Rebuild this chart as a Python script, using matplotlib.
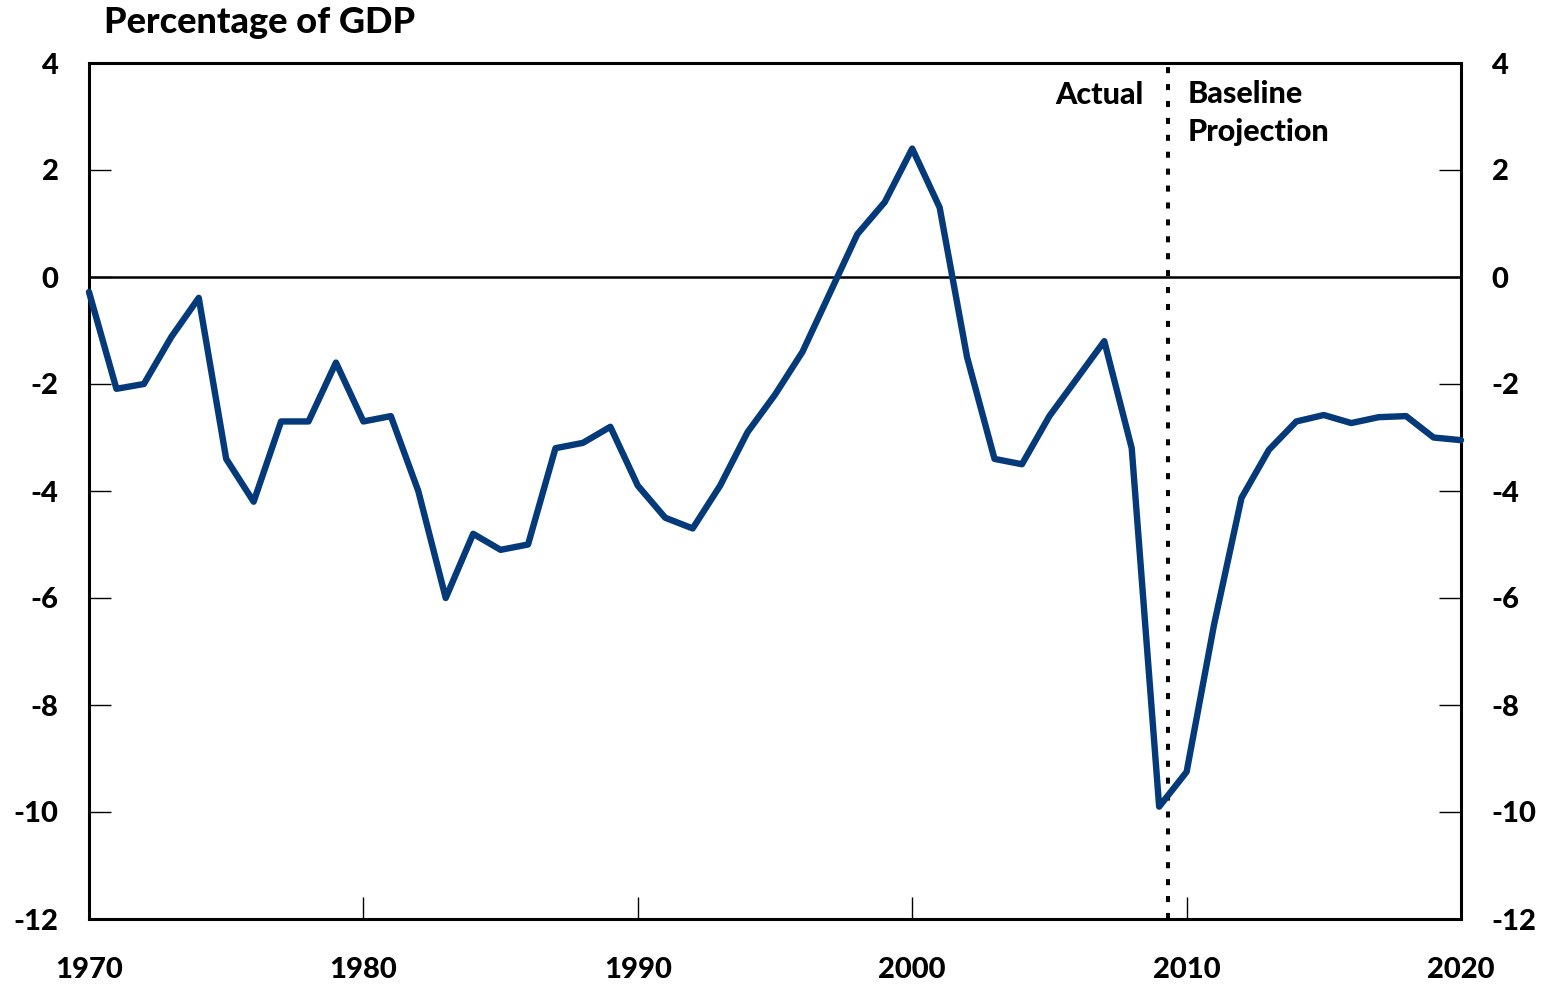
import matplotlib
matplotlib.use("Agg")
import matplotlib.pyplot as plt

plt.rcParams['font.family'] = ['Lato', 'DejaVu Sans']
W = 'black'

years = list(range(1970, 2021))
deficit = [-0.28, -2.09, -2.0, -1.12, -0.39, -3.4, -4.2, -2.7, -2.7, -1.6,
           -2.7, -2.6, -4.0, -6.0, -4.8, -5.1, -5.0, -3.2, -3.1, -2.8,
           -3.9, -4.5, -4.7, -3.9, -2.9, -2.2, -1.4, -0.3, 0.8, 1.4,
           2.4, 1.3, -1.5, -3.4, -3.5, -2.6, -1.9, -1.2, -3.2, -9.9,
           -9.25, -6.5, -4.13, -3.23, -2.7, -2.58, -2.73, -2.62, -2.6, -3.0,
           -3.05]
x_ticks = [1970, 1980, 1990, 2000, 2010, 2020]
y_ticks = [4, 2, 0, -2, -4, -6, -8, -10, -12]
divider_year = 2009.33

fig = plt.figure(figsize=(15.52, 9.84), dpi=100)
ax = fig.add_axes([89/1552, 1-919/984, (1461-89)/1552, (919-63)/984])
ax.set_xlim(1970, 2020)
ax.set_ylim(-12, 4)

ax.axhline(0, color='black', lw=1.8, zorder=1)
ax.axvline(divider_year, color='black', lw=2.9, linestyle=(0, (1.5, 2.7)), zorder=1)
ax.plot(years, deficit, color='#053a7a', lw=4.6, solid_joinstyle='round',
        solid_capstyle='round', zorder=3, clip_on=False)

for s in ax.spines.values():
    s.set_linewidth(2.2)

ax.set_xticks(x_ticks)
ax.set_xticklabels([str(v) for v in x_ticks], fontweight=W)
ax.set_yticks(y_ticks)
ax.set_yticklabels([str(v) for v in y_ticks], fontweight=W)
ax.tick_params(axis='x', direction='in', length=16, width=1, pad=27, labelsize=21)
ax.tick_params(axis='y', direction='in', length=16, width=1, pad=22, labelsize=21,
               left=True, right=True, labelleft=True, labelright=True)
for t in ax.yaxis.get_major_ticks():
    t.label1.set_fontweight(W)
    t.label2.set_fontweight(W)

ax.annotate('Percentage of GDP', xy=(0, 1), xycoords='axes fraction', xytext=(11, 29),
            textcoords='offset points', fontsize=26, fontweight=W, ha='left', va='center')
ax.annotate('Actual', xy=(divider_year, 4), xytext=(-18, -23), textcoords='offset points',
            ha='right', va='center', fontsize=22, fontweight=W)
ax.annotate('Baseline\nProjection', xy=(divider_year, 4), xytext=(14, -12.5), textcoords='offset points',
            ha='left', va='top', fontsize=22, fontweight=W, linespacing=1.4)

fig.savefig('out.png', dpi=100)
